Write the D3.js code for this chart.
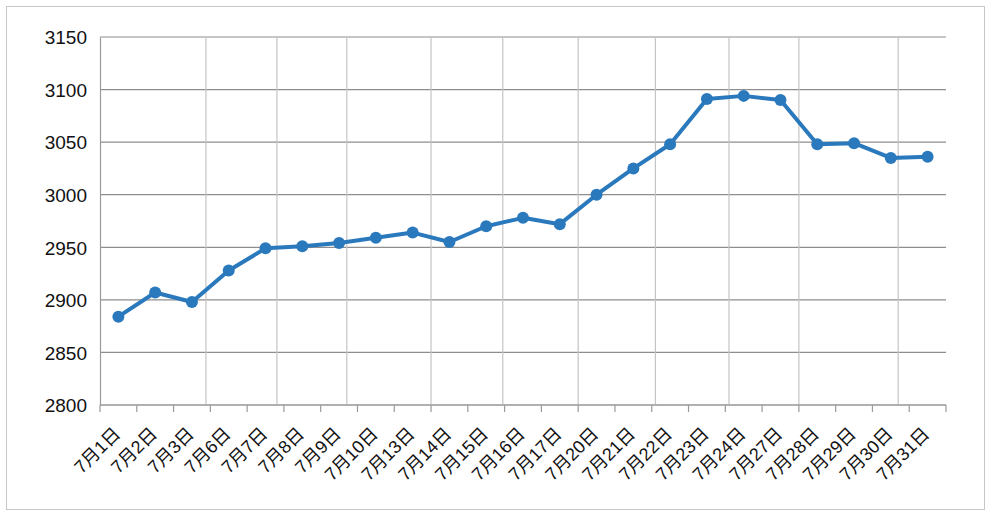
<!DOCTYPE html>
<html>
<head>
<meta charset="utf-8">
<script src="https://cdn.jsdelivr.net/npm/d3@7"></script>
<style>
  body { margin: 0; background: #fff; }
  text { font-family: "Liberation Sans", Arial, "Noto Sans CJK SC", sans-serif; fill: #111; }
</style>
</head>
<body>
<script>
// categories (trading days of July) and closing values
var dates = ["7月1日", "7月2日", "7月3日", "7月6日", "7月7日", "7月8日", "7月9日", "7月10日",
             "7月13日", "7月14日", "7月15日", "7月16日", "7月17日", "7月20日", "7月21日", "7月22日",
             "7月23日", "7月24日", "7月27日", "7月28日", "7月29日", "7月30日", "7月31日"];
var values = [2884, 2907, 2898, 2928, 2949, 2951, 2954, 2959, 2964, 2955, 2970, 2978,
              2972, 3000, 3025, 3048, 3091, 3094, 3090, 3048, 3049, 3035, 3036];
var yTicks = [2800, 2850, 2900, 2950, 3000, 3050, 3100, 3150];
// vertical grid lines, in category-boundary units (as they appear in the picture)
var vGrid = [2.88, 4.81, 6.71, 9.0, 10.95, 13.0, 15.1, 17.1, 19.0, 21.7];

var W = 991, H = 516;
var margin = {top: 37, right: 45, bottom: 111, left: 100},
    width = W - margin.left - margin.right,
    height = H - margin.top - margin.bottom;

var svg = d3.select("body").append("svg")
    .attr("width", W)
    .attr("height", H);

// outer frame
svg.append("rect")
    .attr("x", 6.5).attr("y", 6.5)
    .attr("width", 978).attr("height", 503)
    .attr("fill", "#fff")
    .attr("stroke", "#c6c6c6")
    .attr("stroke-width", 1);

var g = svg.append("g")
    .attr("transform", "translate(" + margin.left + "," + margin.top + ")");

var xScale = d3.scaleBand().domain(dates).range([0, width]).padding(0);
var xBound = d3.scaleLinear().domain([0, dates.length]).range([0, width]);
var yScale = d3.scaleLinear().domain([2800, 3150]).range([height, 0]);

// horizontal grid
g.append("g").selectAll("line")
    .data(yTicks)
    .enter().append("line")
    .attr("x1", 0).attr("x2", width)
    .attr("y1", function(d) { return yScale(d); })
    .attr("y2", function(d) { return yScale(d); })
    .attr("stroke", "#8e8e8e")
    .attr("stroke-width", 1.2);

// vertical grid
g.append("g").selectAll("line")
    .data(vGrid)
    .enter().append("line")
    .attr("x1", function(d) { return xBound(d); })
    .attr("x2", function(d) { return xBound(d); })
    .attr("y1", 0).attr("y2", height)
    .attr("stroke", "#c4c4c4")
    .attr("stroke-width", 1.2);

// y axis
var yAxis = g.append("g")
    .call(d3.axisLeft(yScale).tickValues(yTicks).tickFormat(d3.format("d")).tickSize(0).tickPadding(13));
yAxis.select(".domain").attr("stroke", "#9a9a9a").attr("stroke-width", 1.2);
yAxis.selectAll("text").style("font-size", "19px").attr("dy", "0.36em");

// x axis with ticks at band boundaries
var xAxis = g.append("g").attr("transform", "translate(0," + height + ")");
xAxis.append("line")
    .attr("x1", 0).attr("x2", width)
    .attr("stroke", "#9a9a9a").attr("stroke-width", 1.2);
xAxis.selectAll("line.tick")
    .data(d3.range(dates.length + 1))
    .enter().append("line")
    .attr("class", "tick")
    .attr("x1", function(d) { return xBound(d); })
    .attr("x2", function(d) { return xBound(d); })
    .attr("y1", 0).attr("y2", 7)
    .attr("stroke", "#9a9a9a").attr("stroke-width", 1.2);
xAxis.selectAll("text")
    .data(dates)
    .enter().append("text")
    .attr("text-anchor", "end")
    .attr("transform", function(d) {
        return "translate(" + (xScale(d) + xScale.bandwidth() / 2 + 3) + ",30) rotate(-45)";
    })
    .style("font-size", "18px")
    .text(function(d) { return d; });

// line + markers
var line = d3.line()
    .x(function(d, i) { return xScale(dates[i]) + xScale.bandwidth() / 2; })
    .y(function(d) { return yScale(d); });

g.append("path")
    .datum(values)
    .attr("d", line)
    .attr("fill", "none")
    .attr("stroke", "#2b79bd")
    .attr("stroke-width", 4)
    .attr("stroke-linejoin", "round");

g.append("g").selectAll("circle")
    .data(values)
    .enter().append("circle")
    .attr("cx", function(d, i) { return xScale(dates[i]) + xScale.bandwidth() / 2; })
    .attr("cy", function(d) { return yScale(d); })
    .attr("r", 6)
    .attr("fill", "#2b79bd");
</script>
</body>
</html>
